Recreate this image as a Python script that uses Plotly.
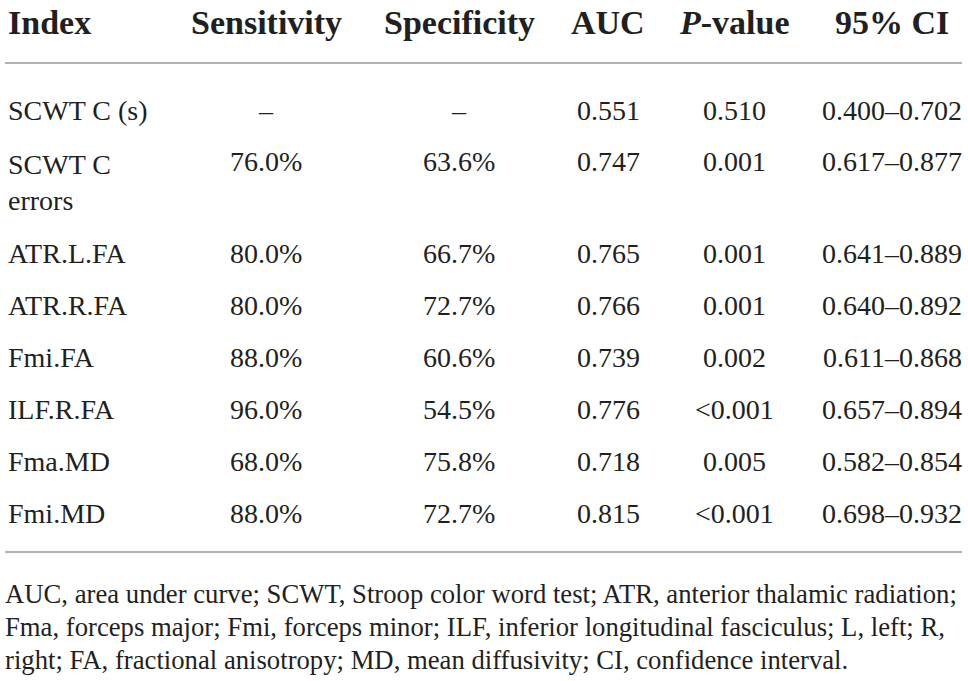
import plotly.graph_objects as go

# Table content
headers = ['Index', 'Sensitivity', 'Specificity', 'AUC', '<i>P</i>-value', '95% CI']
index_names = ['SCWT C (s)', 'SCWT C<br>errors', 'ATR.L.FA', 'ATR.R.FA', 'Fmi.FA',
               'ILF.R.FA', 'Fma.MD', 'Fmi.MD']
sensitivity = ['–', '76.0%', '80.0%', '80.0%', '88.0%', '96.0%', '68.0%', '88.0%']
specificity = ['–', '63.6%', '66.7%', '72.7%', '60.6%', '54.5%', '75.8%', '72.7%']
auc = ['0.551', '0.747', '0.765', '0.766', '0.739', '0.776', '0.718', '0.815']
p_values = ['0.510', '0.001', '0.001', '0.001', '0.002', '<0.001', '0.005', '<0.001']
ci_95 = ['0.400–0.702', '0.617–0.877', '0.641–0.889', '0.640–0.892', '0.611–0.868',
         '0.657–0.894', '0.582–0.854', '0.698–0.932']
footnote = [
    'AUC, area under curve; SCWT, Stroop color word test; ATR, anterior thalamic radiation;',
    'Fma, forceps major; Fmi, forceps minor; ILF, inferior longitudinal fasciculus; L, left; R,',
    'right; FA, fractional anisotropy; MD, mean diffusivity; CI, confidence interval.',
]

W, H = 968, 681
ink = '#231f20'
rule = '#9a9a9a'
serif = 'Liberation Serif'

# layout (pixel coords, y downwards)
col_x = [6, 266, 459, 608, 734, 892]
header_y = 22
row_y = [110, 161, 253, 305, 357, 409, 461, 513]
foot_y = [594, 627, 660]

fig = go.Figure()
ann = []

for j, h in enumerate(headers):
    ann.append(dict(x=col_x[j], y=header_y, text='<b>' + h + '</b>',
                    xanchor='left' if j == 0 else 'center', yanchor='middle',
                    showarrow=False, font=dict(family=serif, size=34, color=ink)))

columns = [sensitivity, specificity, auc, p_values, ci_95]
for i, name in enumerate(index_names):
    two_line = '<br>' in name
    ann.append(dict(x=col_x[0], y=row_y[i] - (14 if two_line else 0), text=name,
                    xanchor='left', yanchor='top' if two_line else 'middle',
                    align='left', showarrow=False,
                    font=dict(family=serif, size=28, color=ink)))
    for j, col in enumerate(columns):
        ann.append(dict(x=col_x[j + 1], y=row_y[i], text=col[i],
                        xanchor='center', yanchor='middle', showarrow=False,
                        font=dict(family=serif, size=28, color=ink)))

for k, line in enumerate(footnote):
    ann.append(dict(x=3, y=foot_y[k], text=line, xanchor='left', yanchor='middle',
                    showarrow=False, font=dict(family=serif, size=26.7, color=ink)))

# horizontal rules
shapes = [
    dict(type='line', x0=5, x1=962, y0=63, y1=63, line=dict(color=rule, width=1.5)),
    dict(type='line', x0=5, x1=962, y0=552, y1=552, line=dict(color=rule, width=1.5)),
]

fig.update_layout(
    width=W, height=H,
    margin=dict(l=0, r=0, t=0, b=0),
    paper_bgcolor='white', plot_bgcolor='white',
    xaxis=dict(range=[0, W], visible=False, fixedrange=True),
    yaxis=dict(range=[H, 0], visible=False, fixedrange=True),
    annotations=ann, shapes=shapes,
    showlegend=False,
)

# drop the default page margin so the figure sits at the window corner
fig.write_html('out.html', config={'displayModeBar': False},
               post_script="document.body.style.margin='0';")
